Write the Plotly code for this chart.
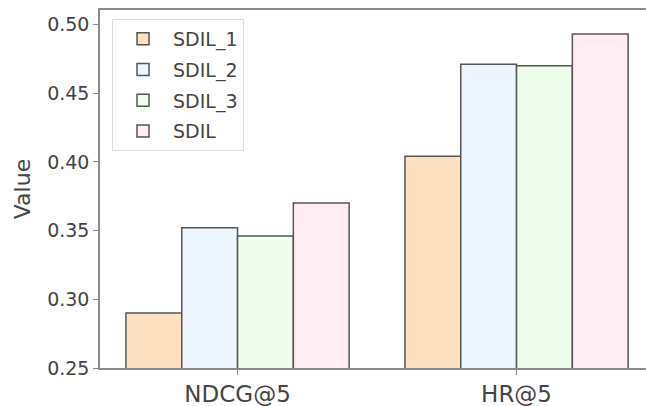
import plotly.graph_objects as go

categories = ["NDCG@5", "HR@5"]
series_names = ["SDIL_1", "SDIL_2", "SDIL_3", "SDIL"]
sdil_1 = [0.290, 0.404]
sdil_2 = [0.352, 0.471]
sdil_3 = [0.346, 0.470]
sdil = [0.370, 0.493]
series_values = [sdil_1, sdil_2, sdil_3, sdil]
colors = ["#FDE1C1", "#EDF5FE", "#EEFDEC", "#FFEDF3"]
y_ticks = [0.25, 0.30, 0.35, 0.40, 0.45, 0.50]
y_tick_labels = ["0.25", "0.30", "0.35", "0.40", "0.45", "0.50"]

font_family = "DejaVu Sans, sans-serif"
text_color = "#444444"

fig = go.Figure()
for name, vals, col in zip(series_names, series_values, colors):
    fig.add_trace(go.Bar(
        x=categories, y=vals, name=name, legendgroup=name,
        marker=dict(color=col, line=dict(color="#555555", width=1.5)),
    ))

fig.update_layout(
    width=646, height=406,
    margin=dict(l=100, r=0, t=10, b=38, autoexpand=False),
    paper_bgcolor="white", plot_bgcolor="white",
    barmode="group", bargap=0.2, bargroupgap=0,
    font=dict(family=font_family, color=text_color),
    showlegend=True,
    legend=dict(
        x=0.022, y=0.975, xanchor="left", yanchor="top",
        bgcolor="rgba(255,255,255,0.9)", bordercolor="#dddddd", borderwidth=1,
        font=dict(size=19, family=font_family, color=text_color),
        tracegroupgap=3, itemwidth=50,
    ),
    xaxis=dict(
        range=[-0.493, 1.464], automargin=False,
        showline=True, linecolor="#8a8a8a", linewidth=1.5, mirror=True,
        ticks="outside", ticklen=5, tickcolor="#8a8a8a",
        tickfont=dict(size=23), showgrid=False, zeroline=False,
    ),
    yaxis=dict(
        range=[0.25, 0.5105], automargin=False,
        tickvals=y_ticks, ticktext=y_tick_labels,
        showline=True, linecolor="#8a8a8a", linewidth=1.5, mirror=False,
        ticks="outside", ticklen=5, tickcolor="#8a8a8a",
        tickfont=dict(size=19), showgrid=False, zeroline=False,
        title=dict(text="Value", font=dict(size=22), standoff=10),
    ),
)

fig.write_html(
    "out.html",
    config={"displayModeBar": False},
    post_script="document.body.style.margin='0px';document.body.style.overflow='hidden';",
)
